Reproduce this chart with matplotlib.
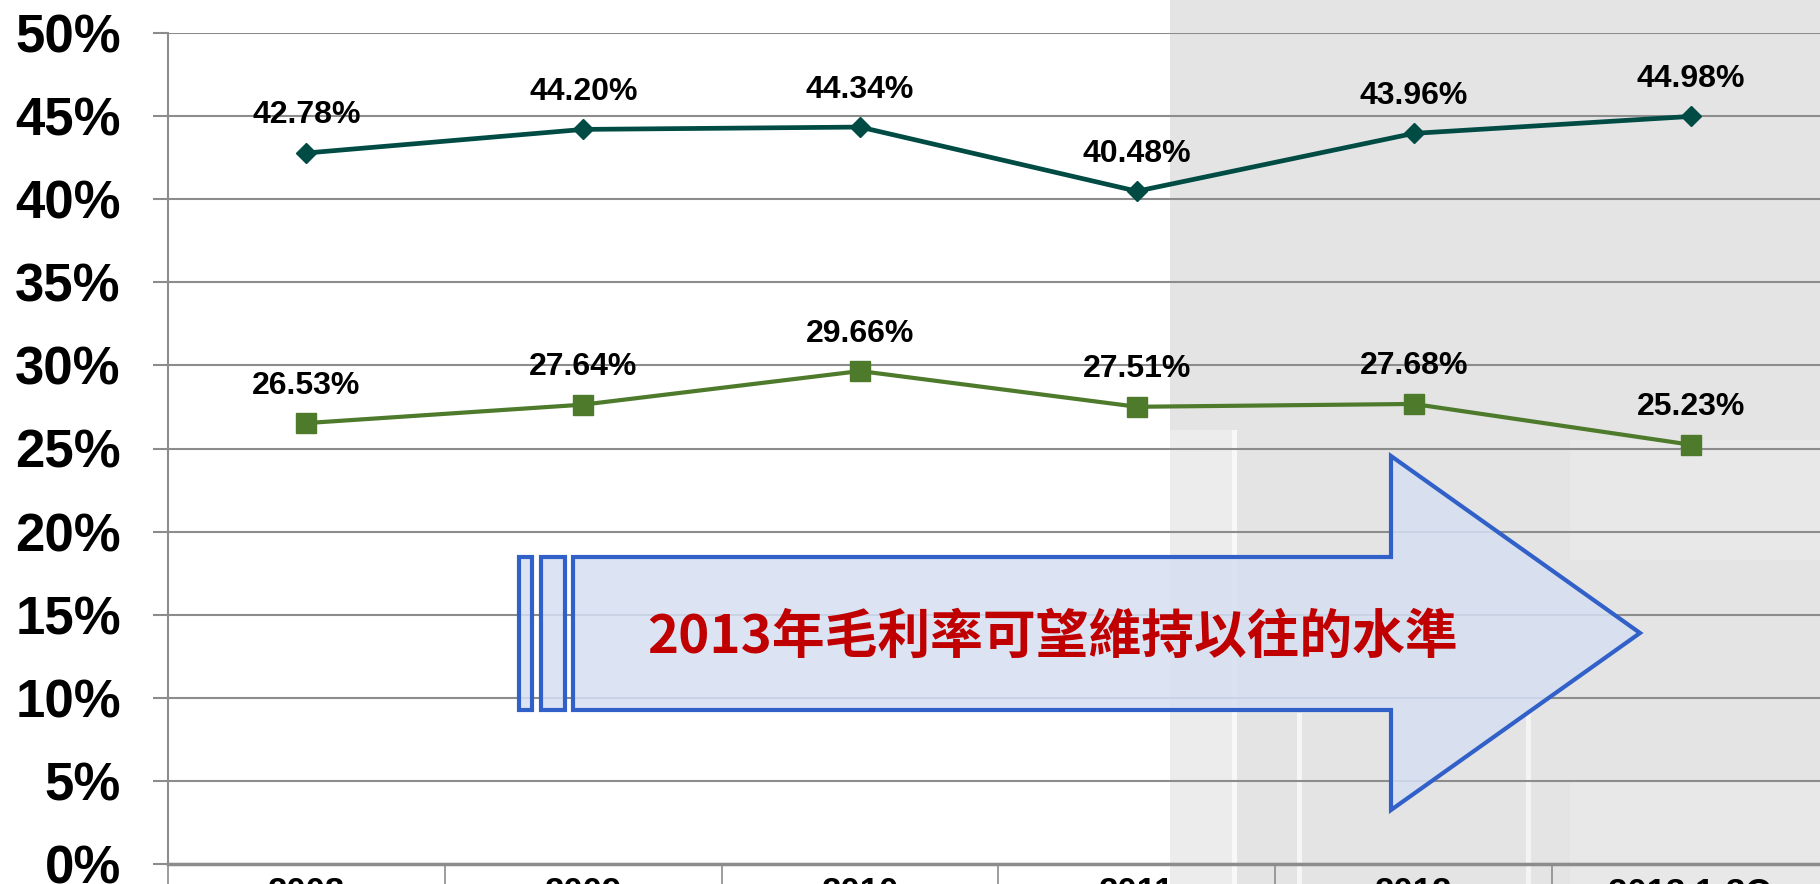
import matplotlib
matplotlib.use('Agg')
from matplotlib import pyplot as plt
from matplotlib.patches import Rectangle, Polygon
from matplotlib.colors import to_rgba
import numpy as np

# data
years = ['2008', '2009', '2010', '2011', '2012', '2013 1-3Q']
gross_margin = [42.78, 44.20, 44.34, 40.48, 43.96, 44.98]
net_margin = [26.53, 27.64, 29.66, 27.51, 27.68, 25.23]
y_ticks = [0, 5, 10, 15, 20, 25, 30, 35, 40, 45, 50]
note = '2013年毛利率可望維持以往的水準'

W, H = 1820, 884
plt.rcParams['font.family'] = ['Liberation Sans', 'DejaVu Sans']

fig = plt.figure(figsize=(W / 100, H / 100), dpi=100)
fig.patch.set_facecolor('white')


def fx(px):
    return px / W


def fy(py):
    # py measured from top
    return 1 - py / H


# grey picture on the right side
fig.patches.append(Rectangle((fx(1170), 0), 1 - fx(1170), 1, transform=fig.transFigure,
                             facecolor='#e4e4e4', edgecolor='none', zorder=-10))
for (x0, y0, w, h, c) in [(1170, 430, 64, 454, '#ececec'), (1232, 430, 5, 454, '#f8f8f8'),
                          (1297, 713, 5, 171, '#f6f6f6'), (1526, 713, 5, 171, '#f4f4f4'),
                          (1570, 440, 250, 120, '#e8e8e8'), (1570, 780, 250, 104, '#e8e8e8')]:
    fig.patches.append(Rectangle((fx(x0), fy(y0 + h)), fx(w), h / H, transform=fig.transFigure,
                                 facecolor=c, edgecolor='none', zorder=-9))

ax = fig.add_axes([fx(168), fy(864), fx(1829 - 168), (864 - 33) / H])
ax.patch.set_alpha(0)

x = np.arange(len(years))
ax.plot(x, gross_margin, '-D', color='#004c45', lw=3.4, ms=10, zorder=5, clip_on=False)
ax.plot(x, net_margin, '-s', color='#4e7a2c', lw=3.0, ms=14, zorder=5, clip_on=False)

for xi, v in zip(x, gross_margin):
    ax.annotate('%.2f%%' % v, (xi, v), xytext=(0, 27), textcoords='offset points',
                ha='center', va='center', fontsize=23, fontweight='bold', color='black')
for xi, v in zip(x, net_margin):
    ax.annotate('%.2f%%' % v, (xi, v), xytext=(0, 27), textcoords='offset points',
                ha='center', va='center', fontsize=23, fontweight='bold', color='black')

ax.set_xlim(-0.5, len(years) - 0.5)
ax.set_ylim(0, 50)
ax.set_yticks(y_ticks)
ax.set_yticklabels(['%d%%' % t for t in y_ticks], fontsize=38, fontweight='bold')
ax.set_xticks(x)
ax.set_xticklabels(years, fontsize=25, fontweight='bold')
ax.set_xticks(np.arange(-0.5, len(years)), minor=True)

ax.grid(axis='y', color='#8c8c8c', lw=1.5, zorder=0)
for s in ['top', 'right']:
    ax.spines[s].set_visible(False)
ax.spines['left'].set_color('#8c8c8c')
ax.spines['left'].set_linewidth(1.5)
ax.spines['bottom'].set_color('#8c8c8c')
ax.spines['bottom'].set_linewidth(2.5)
ax.tick_params(axis='y', length=11, width=1.5, color='#8c8c8c', pad=23)
ax.tick_params(axis='x', which='major', length=0, pad=9)
ax.tick_params(axis='x', which='minor', length=25, width=1.2, color='#8c8c8c')

# block arrow with striped tail
fill = to_rgba('#d6e0f3', 0.85)
edge = '#3060c8'
arrow_pts = [(573, 557), (1391, 557), (1391, 456), (1640, 633), (1391, 810), (1391, 710), (573, 710)]
fig.patches.append(Polygon([(fx(a), fy(b)) for a, b in arrow_pts], closed=True,
                           transform=fig.transFigure, facecolor=fill,
                           edgecolor=edge, lw=3, zorder=6))
for (x0, x1) in [(519, 532), (541, 565)]:
    fig.patches.append(Rectangle((fx(x0), fy(710)), fx(x1 - x0), (710 - 557) / H,
                                 transform=fig.transFigure, facecolor=fill,
                                 edgecolor=edge, lw=3, zorder=6))

fig.text(fx(1052), fy(637), note, ha='center', va='center', fontsize=38, fontweight='bold',
         color='#c00000', family=['Noto Sans CJK TC', 'DejaVu Sans'], zorder=7)

fig.savefig('out.png', dpi=100)
